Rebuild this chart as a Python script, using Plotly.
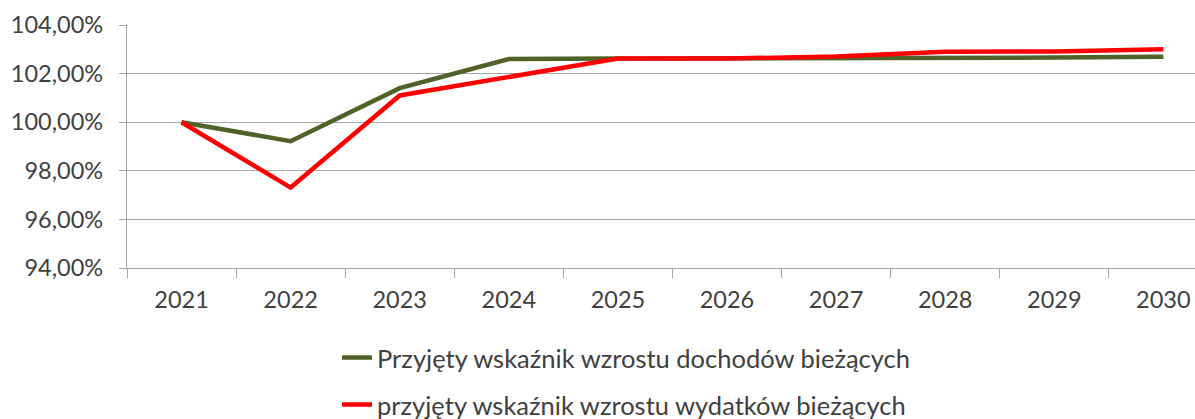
import plotly.graph_objects as go

years = ["2021", "2022", "2023", "2024", "2025", "2026", "2027", "2028", "2029", "2030"]
dochody = [1.0000, 0.9922, 1.0140, 1.0260, 1.0262, 1.0262, 1.0263, 1.0263, 1.0266, 1.0269]
wydatki = [1.0000, 0.9731, 1.0110, 1.0186, 1.0262, 1.0262, 1.0270, 1.0290, 1.0291, 1.0300]
name_d = "Przyjęty wskaźnik wzrostu dochodów bieżących"
name_w = "przyjęty wskaźnik wzrostu wydatków bieżących"

font_family = "Lato, Liberation Sans, sans-serif"
txt = "#404040"

fig = go.Figure()
fig.add_trace(go.Scatter(x=years, y=dochody, mode="lines", name=name_d,
                         line=dict(color="#4f6228", width=4.5), legend="legend"))
fig.add_trace(go.Scatter(x=years, y=wydatki, mode="lines", name=name_w,
                         line=dict(color="#ff0000", width=4.5), legend="legend2"))

W, H = 1195, 419
L, R, T, B = 127, 0, 25, 151
pw, ph = W - L - R, H - T - B

def px_x(p):
    return (p - L) / pw

def px_y(p):
    return (H - B - p) / ph

fig.update_layout(
    width=W, height=H,
    margin=dict(l=L, r=R, t=T, b=B, autoexpand=False),
    paper_bgcolor="white", plot_bgcolor="white",
    separators=", ",
    font=dict(family=font_family, size=23.5, color=txt),
    legend=dict(x=px_x(337), y=px_y(358), xanchor="left", yanchor="middle",
                font=dict(size=25.5, color=txt), bgcolor="rgba(0,0,0,0)"),
    legend2=dict(x=px_x(337), y=px_y(405), xanchor="left", yanchor="middle",
                 font=dict(size=25.5, color=txt), bgcolor="rgba(0,0,0,0)"),
    showlegend=True,
)
fig.update_xaxes(
    type="category", range=[-0.5, 9.29],
    showline=True, linecolor="#a6a6a6", linewidth=1.3,
    ticks="outside", tickson="boundaries", ticklen=9, tickcolor="#a6a6a6",
    showgrid=False, ticklabelstandoff=11,
    tickfont=dict(size=23.5, color=txt),
)
fig.update_yaxes(
    range=[0.94, 1.04], dtick=0.02, tick0=0.94, tickformat=".2%",
    showline=True, linecolor="#a6a6a6", linewidth=1.3,
    ticks="outside", ticklen=7, tickcolor="#a6a6a6",
    showgrid=True, gridcolor="#a6a6a6", gridwidth=1.3,
    zeroline=False, ticklabelstandoff=11,
    tickfont=dict(size=23.5, color=txt),
)

fig.write_html("out.html", config={"displayModeBar": False},
               post_script="document.body.style.margin='0';document.body.style.overflow='hidden';")
